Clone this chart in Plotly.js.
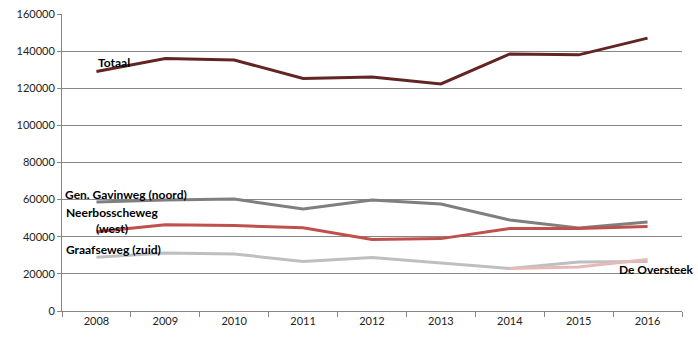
<!DOCTYPE html>
<html><head><meta charset="utf-8">
<script src="https://cdn.plot.ly/plotly-3.0.1.min.js"></script>
<style>body{margin:0;background:#fff}#c{width:698px;height:344px}</style>
</head><body><div id="c"></div>
<script>
const years = ['2008','2009','2010','2011','2012','2013','2014','2015','2016'];
const totaal = [129000,136000,135200,125300,126000,122300,138500,138000,147000];
const gavinweg = [58700,59800,60300,55000,59800,57600,49000,44700,48000];
const neerbosscheweg = [42700,46500,46000,44900,38500,39000,44500,44500,45500];
const graafseweg = [28900,31200,30700,26700,28800,25900,22900,26400,26700];
const oversteekYears = ['2014','2015','2016'];
const oversteek = [22900,23700,27700];

const lbl = (text, x, y) => ({text, x, y, xref:'x', yref:'y', xanchor:'left', yanchor:'middle', showarrow:false,
  font:{family:'Lato, Liberation Sans, sans-serif', size:12, color:'#000', weight:'bold'}});

const mk = (x, y, color) => ({x, y, type:'scatter', mode:'lines', line:{color, width:3}, hoverinfo:'skip'});

Plotly.newPlot('c', [
  mk(years, graafseweg, '#bfbfbf'),
  mk(oversteekYears, oversteek, '#e6b9b8'),
  mk(years, gavinweg, '#7f7f7f'),
  mk(years, neerbosscheweg, '#c0504d'),
  mk(years, totaal, '#632523')
], {
  width:698, height:344, showlegend:false,
  margin:{l:62, r:16, t:14, b:33},
  paper_bgcolor:'#fff', plot_bgcolor:'#fff',
  font:{family:'Lato, Liberation Sans, sans-serif', size:11, color:'#222'},
  xaxis:{type:'category', range:[-0.5,8.5], showgrid:false, showline:true, linecolor:'#868686', linewidth:1,
    ticks:'outside', tickson:'boundaries', ticklen:5, tickcolor:'#868686', fixedrange:true},
  yaxis:{range:[0,160000], dtick:20000, showgrid:true, gridcolor:'#868686', gridwidth:1, showline:true,
    linecolor:'#868686', ticks:'outside', ticklen:4, tickcolor:'#868686', zeroline:false, tickformat:'d', fixedrange:true},
  annotations:[
    lbl('Totaal', 0, 134000),
    lbl('Gen. Gavinweg (noord)', -0.49, 62500),
    lbl('Neerbosscheweg', -0.47, 53300),
    lbl('(west)', -0.03, 44700),
    lbl('Graafseweg (zuid)', -0.47, 33400),
    lbl('De Oversteek', 7.55, 22600)
  ]
}, {staticPlot:true});
</script></body></html>
